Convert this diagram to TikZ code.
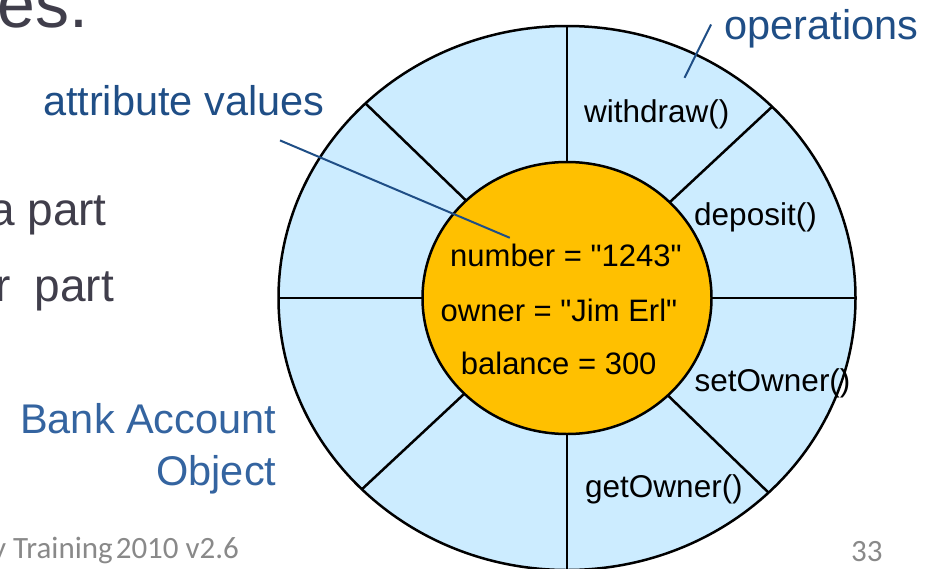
\documentclass[tikz,border=0pt]{standalone}
\usepackage{fontspec}
\setmainfont{Liberation Sans}[Ligatures=TeXOff]
\newfontfamily\footfont{Carlito}
\usetikzlibrary{shapes.geometric}
\definecolor{sectorblue}{RGB}{204,236,255}
\definecolor{coreorange}{RGB}{255,192,0}
\definecolor{labelblue}{RGB}{31,78,134}
\definecolor{titleblue}{RGB}{52,100,160}
\definecolor{bodygray}{RGB}{64,62,75}
\definecolor{footgray}{RGB}{137,137,137}
\begin{document}
\begin{tikzpicture}[x=1pt,y=-1pt,
  ring/.style={ellipse, draw=black, line width=2.5pt, inner sep=0pt, outer sep=0pt},
  divider/.style={draw=black, line width=2.5pt},
  method/.style={font=\fontsize{31.5}{36}\selectfont, anchor=base west, inner sep=0pt},
  attrtext/.style={font=\fontsize{31}{36}\selectfont, anchor=base west, inner sep=0pt},
  callout/.style={font=\fontsize{41.5}{48}\selectfont, text=labelblue, inner sep=0pt},
  leader/.style={draw=labelblue, line width=2pt},
  bodytext/.style={font=\fontsize{46}{52}\selectfont, text=bodygray, anchor=base west, inner sep=0pt},
  foot/.style={font=\footfont\fontsize{31}{36}\selectfont, text=footgray, anchor=base west, inner sep=0pt}]
\useasboundingbox (0,0) rectangle (934,568);
\clip (0,0) rectangle (934,568);

% background slide text
\node[bodytext, font=\fontsize{68}{74}\selectfont] (title) at (-3,27) {es.};
\node[bodytext] (datapart) at (-11,225) {a part};
\node[bodytext] (behpart) at (-4.5,301.7) {r\hspace{11pt} part};
\node[foot] (footer) at (-8,558) {y Training\hspace{-4pt} 2010 v2.6};
\node[foot] (page) at (851,561) {33};

% object rings
\node[ring, fill=sectorblue, minimum width=577pt, minimum height=544pt] (outer) at (567,298) {};
\node[ring, fill=coreorange, minimum width=289pt, minimum height=272pt] (inner) at (567,298) {};
\foreach \a in {0,43.3,90,136.7,180,223.3,270,316.7}
  \draw[divider] (outer.\a) -- (inner.\a);

% operations
\node[method] (withdraw) at (584,122.3) {withdraw()};
\node[method] (deposit) at (694,225) {deposit()};
\node[method] (setowner) at (694.5,391.8) {setOwner()};
\node[method] (getowner) at (585,497.5) {getOwner()};

% attribute values
\node[attrtext] (number) at (450,266.7) {number = "1243"};
\node[attrtext] (owner) at (440.5,321.7) {owner = "Jim Erl"};
\node[attrtext] (balance) at (460.7,374) {balance = 300};

% callouts
\node[callout, anchor=base west] (attrlabel) at (42.8,115) {attribute values};
\node[callout, anchor=base west] (oplabel) at (724.5,39.3) {operations};
\node[callout, text=titleblue, anchor=base east] (bank1) at (276.5,433.3) {Bank Account};
\node[callout, text=titleblue, anchor=base east] (bank2) at (276.5,485) {Object};

\coordinate (attrA) at (280,140.4);
\coordinate (attrB) at (509.8,237.8);
\draw[leader] (attrA) -- (attrB);
\coordinate (opA) at (711,24.5);
\coordinate (opB) at (684.5,77.8);
\draw[leader] (opA) -- (opB);
\end{tikzpicture}
\end{document}
